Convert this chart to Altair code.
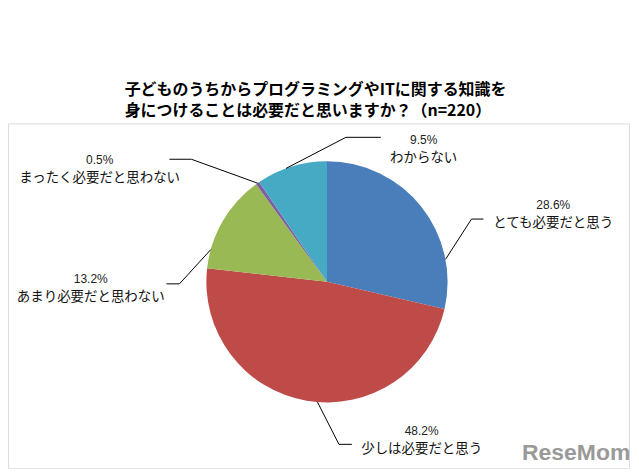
import math
import altair as alt
import pandas as pd

# ---- data ----
categories = ["とても必要だと思う", "少しは必要だと思う", "あまり必要だと思わない",
              "まったく必要だと思わない", "わからない"]
values = [28.6, 48.2, 13.2, 0.5, 9.5]
pct_labels = ["28.6%", "48.2%", "13.2%", "0.5%", "9.5%"]
colors = ["#4A7EBB", "#BE4B48", "#98B954", "#7D60A0", "#46AAC5"]
title_lines = ["子どものうちからプログラミングやITに関する知識を",
               "身につけることは必要だと思いますか？（n=220）"]

# ---- layout (page pixels) ----
CX, CY, R = 328, 280, 121
PAD_TOP = 74
PLOT_TOP = 121
W = 623
H = 467 - PLOT_TOP
anchor_frac = [0.77, 0.47, 0.19, 0.5, 0.42]
label_pos = [(555, 203), (423, 430), (91, 277), (100, 158), (425, 138)]
NAME_DY = 18
elbow = [(473, 217), (340, 443), (180, 282), (192, 157), (347, 135)]
tail = [(485, 217), (353, 443), (167, 282), (170, 157), (382, 135)]

JP = "Noto Sans CJK JP"
NARROW = "Liberation Sans Narrow, Arial Narrow, Liberation Sans"

xs = alt.Scale(domain=[8, 8 + W], nice=False, zero=False)
ys = alt.Scale(domain=[PLOT_TOP, PLOT_TOP + H], nice=False, zero=False, reverse=True)

pie_df = pd.DataFrame({"cat": categories, "value": values, "idx": range(len(values))})

# leader lines computed from slice angles
total = sum(values)
rows = []
start = 0.0
for i, v in enumerate(values):
    span = v / total * 2 * math.pi
    ang = start + anchor_frac[i] * span
    ax = CX + R * math.sin(ang)
    ay = CY - R * math.cos(ang)
    pts = [(ax, ay), elbow[i], tail[i]]
    for k, (px, py) in enumerate(pts):
        rows.append({"cat": categories[i], "k": k, "x": px, "y": py})
    start += span
line_df = pd.DataFrame(rows)

lab_df = pd.DataFrame({
    "cat": categories,
    "pct": pct_labels,
    "x": [p[0] for p in label_pos],
    "y": [p[1] for p in label_pos],
    "y2": [p[1] + NAME_DY for p in label_pos],
})

pie = alt.Chart(pie_df).mark_arc(outerRadius=R).encode(
    theta=alt.Theta("value:Q", stack=True),
    color=alt.Color("cat:N", scale=alt.Scale(domain=categories, range=colors), legend=None),
    order=alt.Order("idx:Q"),
    x=alt.X(datum=CX, type="quantitative", scale=xs, axis=None),
    y=alt.Y(datum=CY, type="quantitative", scale=ys, axis=None),
)

leaders = alt.Chart(line_df).mark_line(color="#000000", strokeWidth=1).encode(
    x=alt.X("x:Q", scale=xs, axis=None),
    y=alt.Y("y:Q", scale=ys, axis=None),
    detail="cat:N",
    order="k:Q",
)

pct_text = alt.Chart(lab_df).mark_text(
    font=NARROW, fontSize=12, color="#222222", align="center", baseline="middle"
).encode(
    x=alt.X("x:Q", scale=xs, axis=None),
    y=alt.Y("y:Q", scale=ys, axis=None),
    text="pct:N",
)

name_text = alt.Chart(lab_df).mark_text(
    font=JP, fontSize=13.5, color="#111111", align="center", baseline="middle"
).encode(
    x=alt.X("x:Q", scale=xs, axis=None),
    y=alt.Y("y2:Q", scale=ys, axis=None),
    text="cat:N",
)

mark_df = pd.DataFrame({"t": ["ReseMom"], "x": [578], "y": [452]})
watermark = alt.Chart(mark_df).mark_text(
    font=NARROW, fontSize=23, fontWeight="bold", color="#999999",
    align="center", baseline="middle"
).encode(
    x=alt.X("x:Q", scale=xs, axis=None),
    y=alt.Y("y:Q", scale=ys, axis=None),
    text="t:N",
)

chart = alt.layer(pie, leaders, pct_text, name_text, watermark).properties(
    width=W,
    height=H,
    padding={"top": PAD_TOP, "left": 0, "right": 0, "bottom": 0},
    title=alt.TitleParams(
        text=title_lines, anchor="start", align="left", dx=117,
        fontSize=16, fontWeight="bold", font=JP, color="#000000",
        lineHeight=21, offset=4,
    ),
).configure_view(stroke=None).configure(background="white")

chart.save("out.html", embed_options={"renderer": "svg", "actions": False})
